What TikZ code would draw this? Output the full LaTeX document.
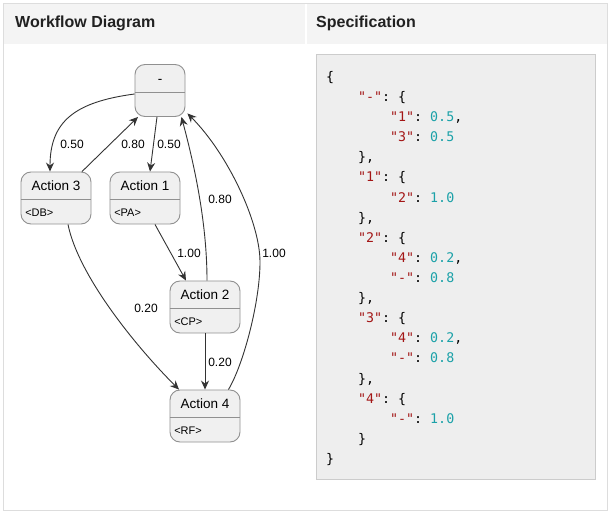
\documentclass[tikz,border=0pt]{standalone}
\usepackage{fontspec}
\setmainfont{Liberation Sans}
\setmonofont{DejaVu Sans Mono}
\usepackage{tikz}
\usetikzlibrary{arrows.meta, calc}

\definecolor{nodefill}{HTML}{F0F0F0}
\definecolor{nodeline}{HTML}{909090}
\definecolor{edgecol}{HTML}{333333}
\definecolor{headbg}{HTML}{F4F4F4}
\definecolor{framecol}{HTML}{DDDDDD}
\definecolor{codebg}{HTML}{EEEEEE}
\definecolor{codeline}{HTML}{CCCCCC}
\definecolor{jsonkey}{HTML}{A31515}
\definecolor{jsonnum}{HTML}{1BA1A8}

\tikzset{
  act/.style={draw=nodeline, fill=nodefill, line width=0.9pt, rounded corners=10pt,
    minimum width=70pt, minimum height=52pt, inner sep=0pt},
  divider/.style={draw=nodeline, line width=0.9pt},
  acttitle/.style={anchor=base, inner sep=0pt, font=\fontsize{13.5}{16}\selectfont},
  acttag/.style={anchor=base west, inner sep=0pt, font=\fontsize{11}{13}\selectfont},
  flow/.style={draw=edgecol, line width=0.9pt, -{Stealth[length=9pt,width=8pt,inset=3pt]}},
  lbl/.style={inner sep=0pt, font=\fontsize{12}{14}\selectfont},
  head/.style={anchor=base west, inner sep=0pt, text=black!87, font=\bfseries\fontsize{16}{19}\selectfont},
  code/.style={anchor=base west, inner sep=0pt, font=\ttfamily\fontsize{13.3}{16}\selectfont}
}

\newcommand{\jkey}[1]{\textcolor{jsonkey}{"#1"}}
\newcommand{\jnum}[1]{\textcolor{jsonnum}{#1}}

% box with a title row and a tag row
\newcommand{\actnode}[6]{%
  \node[act, minimum width=#4] (#1) at (#2,#3) {};
  \draw[divider] ([yshift=-28pt]#1.north west) -- ([yshift=-28pt]#1.north east);
  \node[acttitle] (#1-t) at ([yshift=-19pt]#1.north) {#5};
  \node[acttag] (#1-s) at ([yshift=-44.5pt,xshift=4.5pt]#1.north west) {#6};
}

\begin{document}
\begin{tikzpicture}[x=1pt, y=-1pt]

\useasboundingbox[fill=white] (0,0) rectangle (611,513);

% frame and header cells
\draw[framecol, line width=1pt] (3.5,3.5) rectangle (607.5,510);
\fill[headbg] (4,4) rectangle (305,44);
\fill[headbg] (306.5,4) rectangle (607,44);
\node[head] (h1) at (15,27.7) {Workflow Diagram};
\node[head] (h2) at (316,27.7) {Specification};

% states
\actnode{st}{160}{90.5}{50pt}{-}{}
\actnode{a3}{56}{198}{70pt}{Action 3}{<DB>}
\actnode{a1}{145}{198}{70pt}{Action 1}{<PA>}
\actnode{a2}{205}{307}{70pt}{Action 2}{<CP>}
\actnode{a4}{205}{416}{70pt}{Action 4}{<RF>}

% transitions
\coordinate (bend) at (260,262);
\draw[flow] ([yshift=-3.5pt]st.west) .. controls +(-60,8) and +(0,-50) .. ([xshift=-6pt]a3.north);
\draw[flow] ([xshift=26pt]a3.north) -- ([xshift=-22pt]st.south);
\draw[flow] ([xshift=-3pt]st.south) -- ([xshift=5pt]a1.north);
\draw[flow] ([xshift=2pt]a2.north) .. controls +(0,-60) and +(12,45) .. ([xshift=-4pt]st.south east);
\draw[flow] ([xshift=-12pt]a4.north east) .. controls +(15,-25) and +(0,40) .. (bend)
  .. controls +(0,-40) and +(40,40) .. ([shift={(2,-3.5)}]st.south east);
\draw[flow] ([xshift=10pt]a1.south) -- ([xshift=-19pt]a2.north);
\draw[flow] ([xshift=12pt]a3.south) .. controls +(10,50) and +(-45,-45) .. ([xshift=-26pt]a4.north);
\draw[flow] (a2.south) -- (a4.north);

% probabilities
\node[lbl] (l1) at (72,144) {0.50};
\node[lbl] (l2) at (133,144) {0.80};
\node[lbl] (l3) at (169,144) {0.50};
\node[lbl] (l4) at (220,199) {0.80};
\node[lbl] (l5) at (274,253) {1.00};
\node[lbl] (l6) at (189,253) {1.00};
\node[lbl] (l7) at (146,308) {0.20};
\node[lbl] (l8) at (220,362) {0.20};

% specification listing
\draw[codeline, fill=codebg, line width=1pt] (316.5,55) rectangle (595.5,479.5);
\foreach \x/\t [count=\i] in {
    326/{\{},
    358/{\jkey{-}: \{},
    390/{\jkey{1}: \jnum{0.5},},
    390/{\jkey{3}: \jnum{0.5}},
    358/{\},},
    358/{\jkey{1}: \{},
    390/{\jkey{2}: \jnum{1.0}},
    358/{\},},
    358/{\jkey{2}: \{},
    390/{\jkey{4}: \jnum{0.2},},
    390/{\jkey{-}: \jnum{0.8}},
    358/{\},},
    358/{\jkey{3}: \{},
    390/{\jkey{4}: \jnum{0.2},},
    390/{\jkey{-}: \jnum{0.8}},
    358/{\},},
    358/{\jkey{4}: \{},
    390/{\jkey{-}: \jnum{1.0}},
    358/{\}},
    326/{\}}} {
  \node[code] (c\i) at (\x, {81.5+20.1*(\i-1)}) {\t};
}

\end{tikzpicture}
\end{document}
